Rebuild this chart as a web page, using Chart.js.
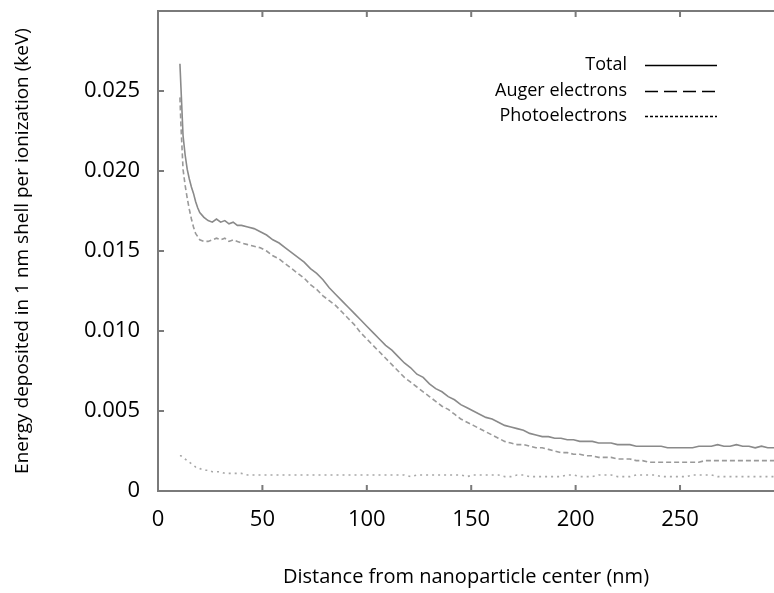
<!DOCTYPE html>
<html>
<head>
<meta charset="utf-8">
<script src="https://cdn.jsdelivr.net/npm/chart.js@4/dist/chart.umd.min.js"></script>
<style>
  html, body { margin: 0; padding: 0; background: #fff; }
  #wrap { width: 774px; height: 593px; }
</style>
</head>
<body>
<div id="wrap"><canvas id="chart" width="774" height="593"></canvas></div>
<script>
// distance from nanoparticle center (nm)
const distances = [
  10.5, 11, 12, 13, 14, 15, 16, 17, 18, 19, 20,
  22, 24, 26, 28, 30, 32, 34, 36, 38, 40,
  43, 46, 49, 52, 55, 58, 61, 64, 67, 70, 73, 76, 79, 82, 85, 88, 91, 94, 97, 100,
  103, 106, 109, 112, 115, 118, 121, 124, 127, 130, 133, 136, 139, 142, 145, 148, 151, 154, 157, 160,
  163, 166, 169, 172, 175, 178, 181, 184, 187, 190, 193, 196, 199, 202, 205, 208, 211, 214, 217, 220,
  223, 226, 229, 232, 235, 238, 241, 244, 247, 250, 253, 256, 259, 262, 265, 268, 271, 274, 277, 280,
  283, 286, 289, 292, 295
];

// energy deposited (keV)
const totalValues = [
  0.0267, 0.0252, 0.0222, 0.0210, 0.0201, 0.0195, 0.0190, 0.0186, 0.0181, 0.0177, 0.0174,
  0.0171, 0.0169, 0.0168, 0.0170, 0.0168, 0.0169, 0.0167, 0.0168, 0.0166, 0.0166,
  0.0165, 0.0164, 0.0162, 0.0160, 0.0157, 0.0155, 0.0152, 0.0149, 0.0146, 0.0143, 0.0139, 0.0136, 0.0132, 0.0127, 0.0123, 0.0119, 0.0115, 0.0111, 0.0107, 0.0103,
  0.0099, 0.0095, 0.0091, 0.0088, 0.0084, 0.0080, 0.0077, 0.0073, 0.0071, 0.0067, 0.0064, 0.0062, 0.0059, 0.0057, 0.0054, 0.0052, 0.0050, 0.0048, 0.0046, 0.0045,
  0.0043, 0.0041, 0.0040, 0.0039, 0.0038, 0.0036, 0.0035, 0.0034, 0.0034, 0.0033, 0.0033, 0.0032, 0.0032, 0.0031, 0.0031, 0.0031, 0.0030, 0.0030, 0.0030, 0.0029,
  0.0029, 0.0029, 0.0028, 0.0028, 0.0028, 0.0028, 0.0028, 0.0027, 0.0027, 0.0027, 0.0027, 0.0027, 0.0028, 0.0028, 0.0028, 0.0029, 0.0028, 0.0028, 0.0029, 0.0028,
  0.0028, 0.0027, 0.0028, 0.0027, 0.0027
];

const augerValues = [
  0.0246, 0.0228, 0.0201, 0.0191, 0.0183, 0.0176, 0.0170, 0.0165, 0.0161, 0.0159, 0.0157,
  0.0156, 0.0156, 0.0157, 0.0158, 0.0157, 0.0158, 0.0156, 0.0157, 0.0156, 0.0155,
  0.0154, 0.0153, 0.0152, 0.0150, 0.0147, 0.0145, 0.0142, 0.0139, 0.0136, 0.0133, 0.0129, 0.0126, 0.0122, 0.0119, 0.0116, 0.0112, 0.0108, 0.0104, 0.0099, 0.0095,
  0.0091, 0.0087, 0.0083, 0.0079, 0.0075, 0.0071, 0.0068, 0.0065, 0.0062, 0.0059, 0.0056, 0.0053, 0.0051, 0.0048, 0.0045, 0.0043, 0.0041, 0.0039, 0.0037, 0.0035,
  0.0033, 0.0031, 0.0030, 0.0029, 0.0029, 0.0028, 0.0027, 0.0027, 0.0026, 0.0025, 0.0024, 0.0024, 0.0023, 0.0023, 0.0022, 0.0022, 0.0021, 0.0021, 0.0021, 0.0020,
  0.0020, 0.0020, 0.0019, 0.0019, 0.0018, 0.0018, 0.0018, 0.0018, 0.0018, 0.0018, 0.0018, 0.0018, 0.0018, 0.0019, 0.0019, 0.0019, 0.0019, 0.0019, 0.0019, 0.0019,
  0.0019, 0.0019, 0.0019, 0.0019, 0.0019
];

const photoValues = [
  0.0022, 0.0022, 0.0021, 0.0020, 0.0019, 0.0018, 0.0017, 0.0016, 0.0015, 0.0015, 0.0014,
  0.0013, 0.0013, 0.0012, 0.0012, 0.0012, 0.0011, 0.0011, 0.0011, 0.0011, 0.0011,
  0.0010, 0.0010, 0.0010, 0.0010, 0.0010, 0.0010, 0.0010, 0.0010, 0.0010, 0.0010, 0.0010, 0.0010, 0.0010, 0.0010, 0.0010, 0.0010, 0.0010, 0.0010, 0.0010, 0.0010,
  0.0010, 0.0010, 0.0010, 0.0010, 0.0010, 0.0010, 0.0009, 0.0010, 0.0010, 0.0010, 0.0010, 0.0010, 0.0010, 0.0010, 0.0010, 0.0009, 0.0010, 0.0010, 0.0010, 0.0010,
  0.0010, 0.0009, 0.0009, 0.0010, 0.0010, 0.0009, 0.0009, 0.0009, 0.0009, 0.0009, 0.0009, 0.0010, 0.0010, 0.0009, 0.0009, 0.0009, 0.0010, 0.0010, 0.0010, 0.0009,
  0.0009, 0.0009, 0.0010, 0.0010, 0.0010, 0.0010, 0.0009, 0.0009, 0.0009, 0.0009, 0.0009, 0.0010, 0.0010, 0.0010, 0.0010, 0.0009, 0.0009, 0.0009, 0.0009, 0.0009,
  0.0009, 0.0009, 0.0009, 0.0009, 0.0009
];

const xTicks = [0, 50, 100, 150, 200, 250];
const yTicks = [0, 0.005, 0.010, 0.015, 0.020, 0.025];

const seriesNames = ['Total', 'Auger electrons', 'Photoelectrons'];

const FONT = '"Open Sans", "DejaVu Sans", sans-serif';
const AXIS_COLOR = '#7a7a7a';

function toPoints(values) {
  return distances.map((d, i) => ({ x: d, y: values[i] }));
}

// legend: label on the left, black line sample on the right
const legendPlugin = {
  id: 'sideLegend',
  afterDraw(chart) {
    const ctx = chart.ctx;
    const dashes = [[], [13, 6], [3, 2]];
    const rows = [65, 91, 116];
    ctx.save();
    ctx.font = '18px ' + FONT;
    ctx.fillStyle = '#000';
    ctx.textAlign = 'right';
    ctx.textBaseline = 'middle';
    ctx.strokeStyle = '#000';
    ctx.lineWidth = 1.3;
    seriesNames.forEach((name, i) => {
      ctx.fillText(name, 627, rows[i]);
      ctx.setLineDash(dashes[i]);
      ctx.beginPath();
      ctx.moveTo(645, rows[i] + 0.5);
      ctx.lineTo(717, rows[i] + 0.5);
      ctx.stroke();
    });
    ctx.restore();
  }
};

// frame top line plus inward tick marks
const frameTicks = {
  id: 'frameTicks',
  afterDraw(chart) {
    const { ctx, chartArea, scales } = chart;
    ctx.save();
    ctx.strokeStyle = AXIS_COLOR;
    ctx.lineWidth = 2;
    ctx.beginPath();
    ctx.moveTo(chartArea.left - 1, chartArea.top);
    ctx.lineTo(chartArea.right, chartArea.top);
    ctx.stroke();

    ctx.beginPath();
    xTicks.slice(1).forEach(v => {
      const px = scales.x.getPixelForValue(v);
      ctx.moveTo(px, chartArea.bottom);
      ctx.lineTo(px, chartArea.bottom - 6);
      ctx.moveTo(px, chartArea.top);
      ctx.lineTo(px, chartArea.top + 6);
    });
    yTicks.slice(1).forEach(v => {
      const py = scales.y.getPixelForValue(v);
      ctx.moveTo(chartArea.left, py);
      ctx.lineTo(chartArea.left + 6, py);
    });
    ctx.stroke();
    ctx.restore();
  }
};

new Chart(document.getElementById('chart'), {
  type: 'line',
  data: {
    datasets: [
      {
        label: seriesNames[0],
        data: toPoints(totalValues),
        borderColor: '#8a8a8a',
        borderWidth: 1.6
      },
      {
        label: seriesNames[1],
        data: toPoints(augerValues),
        borderColor: '#9a9a9a',
        borderWidth: 1.6,
        borderDash: [5, 3]
      },
      {
        label: seriesNames[2],
        data: toPoints(photoValues),
        borderColor: '#a8a8a8',
        borderWidth: 1.6,
        borderDash: [2, 4]
      }
    ]
  },
  options: {
    responsive: false,
    animation: false,
    events: [],
    layout: { padding: { top: 11, left: 0, right: 0, bottom: 0 } },
    elements: { point: { radius: 0 }, line: { tension: 0 } },
    plugins: { legend: { display: false }, tooltip: { enabled: false } },
    scales: {
      x: {
        type: 'linear',
        min: 0,
        max: 295,
        afterFit(scale) {
          scale.height = 102;
          scale.paddingLeft = 0;
          scale.paddingRight = 0;
        },
        grid: { display: false, drawTicks: false },
        border: { display: true, color: AXIS_COLOR, width: 2 },
        afterBuildTicks(scale) { scale.ticks = xTicks.map(v => ({ value: v })); },
        ticks: {
          padding: 16,
          color: '#000',
          font: { family: FONT, size: 22 },
          maxRotation: 0,
          callback: v => String(v)
        },
        title: {
          display: true,
          text: 'Distance from nanoparticle center (nm)',
          color: '#000',
          font: { family: FONT, size: 20 },
          padding: { top: 0, bottom: 4 }
        }
      },
      y: {
        min: 0,
        max: 0.030,
        afterFit(scale) {
          scale.width = 158;
          scale.paddingTop = 0;
          scale.paddingBottom = 0;
        },
        grid: { display: false, drawTicks: false },
        border: { display: true, color: AXIS_COLOR, width: 2 },
        afterBuildTicks(scale) { scale.ticks = yTicks.map(v => ({ value: v })); },
        ticks: {
          padding: 18,
          color: '#000',
          font: { family: FONT, size: 22 },
          callback: v => (v === 0 ? '0' : v.toFixed(3))
        },
        title: {
          display: true,
          text: 'Energy deposited in 1 nm shell per ionization (keV)',
          color: '#000',
          font: { family: FONT, size: 19 },
          padding: { top: 11, bottom: 0 }
        }
      }
    }
  },
  plugins: [legendPlugin, frameTicks]
});
</script>
</body>
</html>
